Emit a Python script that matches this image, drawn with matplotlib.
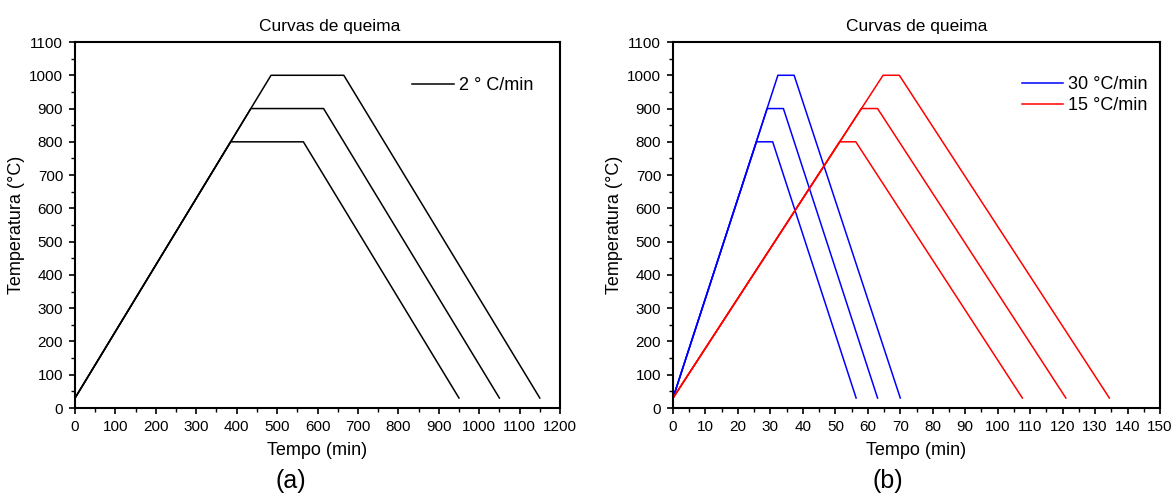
import matplotlib
matplotlib.use("Agg")
from matplotlib import pyplot as plt
from matplotlib.ticker import MultipleLocator

# (a) 2 °C/min firing curves: time (min) / temperature (°C) break points
A_T800 = [0, 385, 565, 950]
A_T900 = [0, 435, 615, 1050]
A_T1000 = [0, 485, 665, 1150]
A_TEMP800 = [30, 800, 800, 30]
A_TEMP900 = [30, 900, 900, 30]
A_TEMP1000 = [30, 1000, 1000, 30]

# (b) 30 °C/min
B30_T800 = [0, 25.7, 30.7, 56.4]
B30_T900 = [0, 29.0, 34.0, 63.0]
B30_T1000 = [0, 32.3, 37.3, 70.0]
# (b) 15 °C/min
B15_T800 = [0, 51.3, 56.3, 107.6]
B15_T900 = [0, 58.0, 63.0, 121.0]
B15_T1000 = [0, 64.7, 69.7, 134.4]

TEMPS = [A_TEMP800, A_TEMP900, A_TEMP1000]

plt.rcParams["font.family"] = ["Liberation Sans", "DejaVu Sans"]


def style_axes(ax, xmax, xmajor, xminor, title_x=0.5):
    ax.set_xlim(0, xmax)
    ax.set_ylim(0, 1100)
    ax.xaxis.set_major_locator(MultipleLocator(xmajor))
    ax.xaxis.set_minor_locator(MultipleLocator(xminor))
    ax.yaxis.set_major_locator(MultipleLocator(100))
    ax.yaxis.set_minor_locator(MultipleLocator(50))
    ax.tick_params(which="major", direction="out", length=4.5, width=1.2,
                   labelsize=11, pad=4)
    ax.tick_params(which="minor", direction="out", length=3, width=1.0)
    for sp in ax.spines.values():
        sp.set_linewidth(1.5)
    ax.set_title("Curvas de queima", fontsize=12.5, pad=8, x=title_x)
    ax.set_xlabel("Tempo (min)", fontsize=13, labelpad=6)
    ax.set_ylabel("Temperatura (°C)", fontsize=13, labelpad=3)


def main():
    fig = plt.figure(figsize=(11.76, 4.93), dpi=100)
    ax1 = fig.add_axes([0.0638, 0.1724, 0.4124, 0.7424])
    ax2 = fig.add_axes([0.5723, 0.1724, 0.4141, 0.7424])

    # panel (a)
    for i, (t, temp) in enumerate(zip([A_T800, A_T900, A_T1000], TEMPS)):
        ax1.plot(t, temp, color="black", lw=1.1,
                 label="2 ° C/min" if i == 0 else None)
    style_axes(ax1, 1200, 100, 50, title_x=0.526)
    ax1.legend(loc="upper right", frameon=False, fontsize=13,
               handlelength=2.3, handletextpad=0.28,
               bbox_to_anchor=(0.978, 0.948))

    # panel (b)
    for i, (t, temp) in enumerate(zip([B30_T800, B30_T900, B30_T1000], TEMPS)):
        ax2.plot(t, temp, color="blue", lw=1.1,
                 label="30 °C/min" if i == 0 else None)
    for i, (t, temp) in enumerate(zip([B15_T800, B15_T900, B15_T1000], TEMPS)):
        ax2.plot(t, temp, color="red", lw=1.1,
                 label="15 °C/min" if i == 0 else None)
    style_axes(ax2, 150, 10, 5)
    ax2.legend(loc="upper right", frameon=False, fontsize=13,
               handlelength=2.3, handletextpad=0.28, labelspacing=0.22,
               bbox_to_anchor=(1.008, 0.951))

    fig.text(0.2475, 0.0243, "(a)", fontsize=18, ha="center", va="center")
    fig.text(0.755, 0.0243, "(b)", fontsize=18, ha="center", va="center")

    fig.savefig("out.png", dpi=100)


if __name__ == "__main__":
    main()
